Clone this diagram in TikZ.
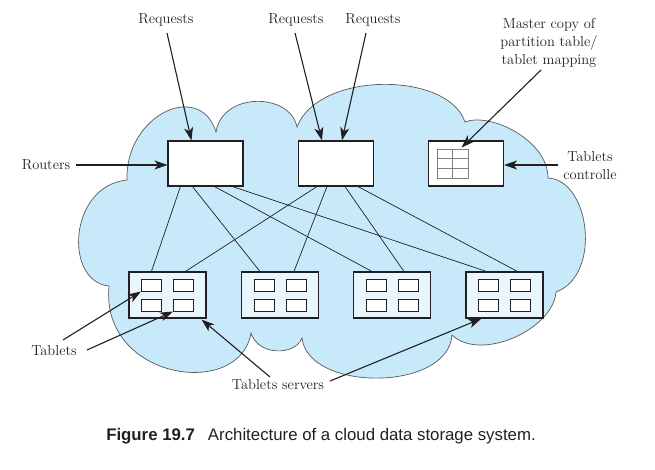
\documentclass[tikz,border=0pt]{standalone}
\usepackage{fontspec}
\newfontfamily\capfont{Liberation Sans}
\usetikzlibrary{arrows.meta,calc}
\definecolor{cloudblue}{RGB}{199,233,250}
\definecolor{srvblue}{RGB}{234,246,253}
\definecolor{ink}{RGB}{35,31,32}
\begin{document}
\begin{tikzpicture}[x=1pt,y=1pt,
  lbl/.style={font=\fontsize{14.5}{18}\selectfont, text=ink, align=center, inner sep=0pt},
  rbox/.style={draw=ink, line width=1.1pt, fill=white, minimum width=75pt, minimum height=45pt, inner sep=0pt},
  srv/.style={draw=ink, line width=1.1pt, fill=srvblue, minimum width=77pt, minimum height=46pt, inner sep=0pt},
  tab/.style={draw=ink, line width=1pt, fill=white, minimum width=20pt, minimum height=12pt, inner sep=0pt},
  arr/.style={draw=ink, line width=1.1pt, -{Stealth[length=13pt,width=9pt,inset=3.5pt]}},
  link/.style={draw=ink, line width=0.7pt}]
\useasboundingbox (0,0) rectangle (655,-470);
% cloud
\draw[fill=cloudblue, draw=black!65, line width=0.7pt]
 (127,-180) .. controls (125,-115) and (200,-80) .. (216,-132)
 .. controls (222,-92) and (290,-92) .. (297,-127)
 .. controls (318,-71) and (448,-71) .. (465,-122)
 .. controls (490,-112) and (548,-140) .. (548,-178)
 .. controls (590,-180) and (602,-275) .. (556,-292)
 .. controls (553,-330) and (480,-362) .. (452,-335)
 .. controls (448,-392) and (308,-392) .. (302,-338)
 .. controls (295,-356) and (258,-356) .. (251,-333)
 .. controls (240,-400) and (100,-380) .. (109,-286)
 .. controls (64,-282) and (68,-186) .. (127,-180) -- cycle;
% routers and controller
\node[rbox] (r1) at (205.5,-163.5) {};
\node[rbox] (r2) at (336,-163.5) {};
\node[rbox] (ctrl) at (466,-163.5) {};
\node[draw=black!50, line width=0.9pt, minimum width=31pt, minimum height=29pt, inner sep=0pt] (tbl) at (452.5,-163.5) {};
\draw[black!50, line width=0.9pt] (tbl.north) -- (tbl.south);
\draw[black!50, line width=0.9pt] ($(tbl.north west)!1/3!(tbl.south west)$) -- ($(tbl.north east)!1/3!(tbl.south east)$);
\draw[black!50, line width=0.9pt] ($(tbl.north west)!2/3!(tbl.south west)$) -- ($(tbl.north east)!2/3!(tbl.south east)$);
% servers
\foreach \i/\x in {1/167.5,2/280,3/392,4/504.5} {
  \node[srv] (s\i) at (\x,-295) {};
  \node[tab] (s\i-a) at (\x-16,-285) {};
  \node[tab] (s\i-b) at (\x+16,-285) {};
  \node[tab] (s\i-c) at (\x-16,-305) {};
  \node[tab] (s\i-d) at (\x+16,-305) {};
}
% links
\foreach \a/\b/\c in {13/1/23, 25/2/19, 47/3/19, 65/4/21}
  \draw[link] ($(r1.south west)+(\a,0)$) -- ($(s\b.north west)+(\c,0)$);
\foreach \a/\b/\c in {19/1/57, 29/2/53, 47/3/51, 60/4/52}
  \draw[link] ($(r2.south west)+(\a,0)$) -- ($(s\b.north west)+(\c,0)$);
% labels
\node[lbl] (req1) at (166,-20) {Requests};
\node[lbl] (req2) at (296,-20) {Requests};
\node[lbl] (req3) at (373,-20) {Requests};
\node[lbl] (master) at (549,-43) {Master copy of\\partition table/\\tablet mapping};
\node[lbl] (rout) at (46,-165) {Routers};
\node[lbl] (tc) at (590,-166) {Tablets\\controlle};
\node[lbl] (tabl) at (54,-351) {Tablets};
\node[lbl] (ts) at (278,-385) {Tablets servers};
\node[font=\capfont\fontsize{16.8}{20}\selectfont, text=ink, inner sep=0pt] (cap) at (321,-436) {\textbf{Figure 19.7}\hspace{13pt}Architecture of a cloud data storage system.};
% arrow start points
\coordinate (q1) at (167,-33);
\coordinate (q2) at (295,-33);
\coordinate (q3) at (366,-33);
\coordinate (m1) at (541,-70);
\coordinate (ra) at (76,-165);
\coordinate (tca) at (558,-165);
\coordinate (t1) at (63,-340);
\coordinate (t2) at (87,-350);
\coordinate (v1) at (270,-377);
\coordinate (v2) at (330,-381);
% arrows
\draw[arr] (q1) -- ($(r1.north west)+(24,0)$);
\draw[arr] (q2) -- ($(r2.north west)+(24,0)$);
\draw[arr] (q3) -- ($(r2.north west)+(44,0)$);
\draw[arr] (m1) -- ($(tbl.north west)+(25,1)$);
\draw[arr] (ra) -- (ra -| r1.west);
\draw[arr] (tca) -- (tca -| ctrl.east);
\draw[arr] (t1) -- (s1-a.south west);
\draw[arr] (t2) -- (s1-d.south west);
\draw[arr] (v1) -- ($(s1.south east)+(-5,-1)$);
\draw[arr] (v2) -- ($(s4.south west)+(16,0)$);
\end{tikzpicture}
\end{document}
